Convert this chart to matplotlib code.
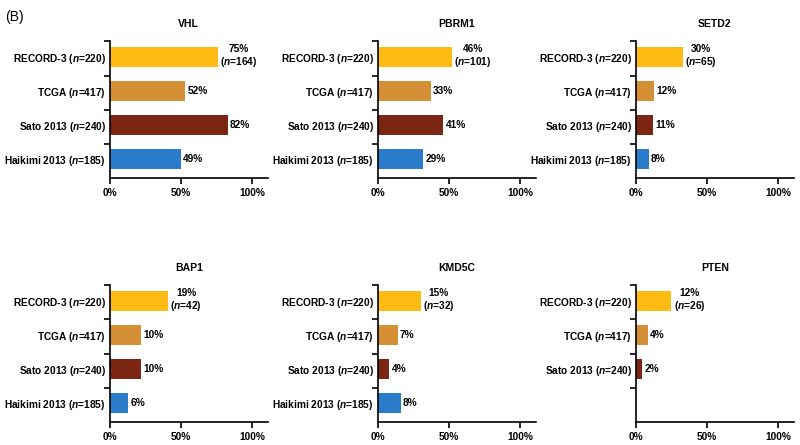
import matplotlib.pyplot as plt
import numpy as np

plt.rcParams['font.family'] = ['Liberation Sans', 'DejaVu Sans']
plt.rcParams['mathtext.fontset'] = 'custom'
plt.rcParams['mathtext.rm'] = 'Liberation Sans:bold'
plt.rcParams['mathtext.it'] = 'Liberation Sans:italic:bold'

genes = ["VHL", "PBRM1", "SETD2", "BAP1", "KMD5C", "PTEN"]
studies = ["RECORD-3", "TCGA", "Sato 2013", "Haikimi 2013"]
study_n = [220, 417, 240, 185]
colors = ["#FDBB14", "#D58F35", "#7B2612", "#2A7BC9"]

# bar lengths as drawn (%), None = no data
bar_values = {
    "VHL":   [76, 53, 83, 50],
    "PBRM1": [52, 37, 46, 32],
    "SETD2": [33, 13, 12, 9],
    "BAP1":  [41, 22, 22, 13],
    "KMD5C": [30, 14, 8, 16],
    "PTEN":  [25, 8.5, 4.3, None],
}
# printed percentages
label_values = {
    "VHL":   [75, 52, 82, 49],
    "PBRM1": [46, 33, 41, 29],
    "SETD2": [30, 12, 11, 8],
    "BAP1":  [19, 10, 10, 6],
    "KMD5C": [15, 7, 4, 8],
    "PTEN":  [12, 4, 2, None],
}
record_n = {"VHL": 164, "PBRM1": 101, "SETD2": 65, "BAP1": 42, "KMD5C": 32, "PTEN": 26}

fig = plt.figure(figsize=(8, 4.45), dpi=100)
fig.text(0.006, 0.962, "(B)", fontsize=10, va="center")

lefts = [0.1375, 0.4725, 0.795]
bottoms = [0.600, 0.052]
w, h = 0.197, 0.307
fs = 7.3

for i, gene in enumerate(genes):
    ax = fig.add_axes([lefts[i % 3], bottoms[i // 3], w, h])
    vals = bar_values[gene]
    labs = label_values[gene]
    ypos = np.arange(len(studies))
    ticklabels = []
    for j, s in enumerate(studies):
        if vals[j] is None:
            ticklabels.append("")
            continue
        ticklabels.append(s + r" ($\mathit{n}$=%d)" % study_n[j])
        ax.barh(ypos[j], vals[j], height=0.58, color=colors[j])
        if j == 0:
            ax.text(vals[j] + 1.5, ypos[j], "%d%%\n" % labs[j] + r"($\mathit{n}$=%d)" % record_n[gene],
                    ha="left", va="center", fontsize=fs, fontweight="bold",
                    multialignment="center", linespacing=1.1)
        else:
            ax.text(vals[j] + 1.5, ypos[j], "%d%%" % labs[j], ha="left", va="center",
                    fontsize=fs, fontweight="bold")
    ax.set_xlim(0, 111)
    ax.set_ylim(3.55, -0.45)
    ax.set_yticks([-0.45, 0.55, 1.55, 2.55])
    ax.set_yticklabels([])
    ax.set_yticks(ypos, minor=True)
    ax.set_yticklabels(ticklabels, minor=True, fontsize=fs, fontweight="bold")
    ax.tick_params(axis="y", which="minor", length=0, pad=3)
    ax.tick_params(axis="y", which="major", length=4, width=1.2)
    ax.set_xticks([0, 50, 100])
    ax.set_xticklabels(["0%", "50%", "100%"], fontsize=fs, fontweight="bold")
    ax.tick_params(axis="x", length=4, width=1.2, pad=3)
    for sp in ["top", "right"]:
        ax.spines[sp].set_visible(False)
    for sp in ["left", "bottom"]:
        ax.spines[sp].set_linewidth(1.2)
    ax.set_title(gene, fontsize=7.5, fontweight="bold", pad=10)

fig.savefig("out.png", dpi=100)
